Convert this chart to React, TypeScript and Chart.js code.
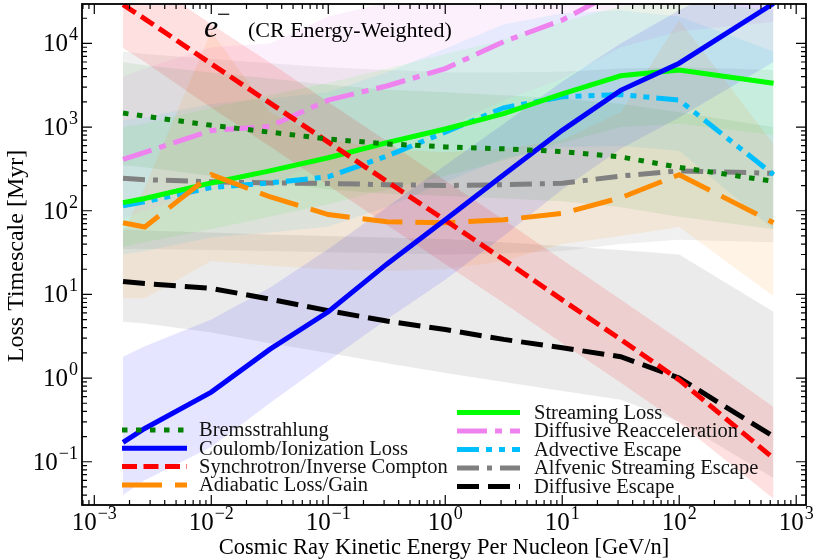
import { useEffect, useRef } from "react";
import { Chart, registerables } from "chart.js";

Chart.register(...registerables);

// kinetic energy per nucleon [GeV/n]
const energy = [0.00176, 0.0027, 0.01, 0.0316, 0.1, 0.316, 1, 3.16, 10, 31.6, 100, 640];

// loss timescales [Myr] (median) and the shaded range around each
const brems = [1470, 1350, 1050, 870, 720, 630, 580, 550, 510, 440, 330, 225];
const bremsLo = [350, 330, 260, 220, 180, 160, 150, 140, 130, 110, 85, 60];
const bremsHi = [6000, 5500, 4500, 3800, 3200, 2800, 2600, 2400, 2200, 1900, 1500, 1000];

const coulomb = [0.17, 0.25, 0.68, 2.2, 6.2, 23, 78, 270, 915, 2750, 5800, 30000];
const coulombLo = [0.04, 0.06, 0.15, 0.5, 1.6, 5, 15, 50, 180, 550, 1300, 6000];
const coulombHi = [1.8, 2.4, 5, 12, 35, 110, 350, 1100, 3500, 10000, 25000, 90000];

const synch = [29000, 19700, 5700, 1950, 660, 225, 77, 26, 8.6, 2.9, 0.95, 0.11];
const synchLo = [8800, 6000, 1700, 590, 200, 68, 23, 7.9, 2.6, 0.88, 0.29, 0.036];
const synchHi = [87000, 59000, 17000, 5900, 2000, 680, 230, 78, 26, 8.7, 2.9, 0.45];

const adiab = [72, 64, 270, 147, 90, 74, 72, 78, 93, 143, 270, 72];
const adiabLo = [9, 9, 25, 22, 20, 19, 20, 25, 40, 50, 64, 9.5];
const adiabHi = [55, 190, 14000, 1500, 700, 550, 500, 550, 700, 1500, 19000, 630];

const stream = [125, 140, 215, 300, 430, 650, 950, 1450, 2500, 4100, 4800, 3350];
const streamLo = [37, 42, 60, 85, 120, 180, 260, 400, 650, 1000, 1100, 800];
const streamHi = [1000, 1100, 1700, 2400, 3400, 5000, 7500, 11000, 18000, 28000, 33000, 25000];

const reacc = [410, 500, 910, 1020, 2100, 3100, 5000, 10500, 19000, 45000, 70000, 90000];
const reaccLo = [80, 100, 180, 200, 420, 620, 1000, 2100, 3800, 9000, 14000, 18000];
const reaccHi = [4000, 5000, 9000, 10000, 21000, 31000, 50000, 100000, 190000, 450000, 700000, 900000];

const advect = [115, 128, 190, 215, 255, 450, 870, 1700, 2300, 2450, 2100, 270];
const advectLo = [30, 33, 48, 55, 65, 110, 220, 420, 580, 600, 520, 60];
const advectHi = [1200, 1300, 1900, 2200, 2600, 4500, 8700, 17000, 23000, 25000, 21000, 8000];

const alfven = [245, 235, 222, 215, 212, 205, 200, 205, 213, 260, 300, 280];
const alfvenLo = [35, 35, 34, 33, 32, 31, 30, 31, 33, 40, 45, 42];
const alfvenHi = [8000, 7500, 6500, 5800, 5200, 4800, 4500, 4500, 4600, 5000, 5200, 4800];

const diffEsc = [14.3, 13.5, 11.8, 8.8, 6.4, 4.8, 3.8, 2.9, 2.3, 1.8, 1.0, 0.2];
const diffEscLo = [4.7, 4.5, 3.5, 2.6, 2.0, 1.5, 1.15, 0.9, 0.7, 0.55, 0.3, 0.064];
const diffEscHi = [60, 58, 55, 52, 50, 48, 46, 42, 38, 34, 30, 6.2];

const xDecades = [-3, -2, -1, 0, 1, 2, 3];
const yDecades = [-1, 0, 1, 2, 3, 4];

type Series = {
  label: string;
  data: number[];
  lo: number[];
  hi: number[];
  color: string;
  band: string;
  dash: number[];
};

const leftCol: Series[] = [
  { label: "Bremsstrahlung", data: brems, lo: bremsLo, hi: bremsHi, color: "#008000", band: "rgba(0,128,0,0.08)", dash: [5.5, 8.5] },
  { label: "Coulomb/Ionization Loss", data: coulomb, lo: coulombLo, hi: coulombHi, color: "#0000ff", band: "rgba(0,0,255,0.1)", dash: [] },
  { label: "Synchrotron/Inverse Compton", data: synch, lo: synchLo, hi: synchHi, color: "#ff0000", band: "rgba(255,0,0,0.12)", dash: [15, 6.5] },
  { label: "Adiabatic Loss/Gain", data: adiab, lo: adiabLo, hi: adiabHi, color: "#ff8c00", band: "rgba(255,140,0,0.1)", dash: [40, 13] },
];

const rightCol: Series[] = [
  { label: "Streaming Loss", data: stream, lo: streamLo, hi: streamHi, color: "#00ff00", band: "rgba(0,255,0,0.08)", dash: [] },
  { label: "Diffusive Reacceleration", data: reacc, lo: reaccLo, hi: reaccHi, color: "#ee82ee", band: "rgba(238,130,238,0.12)", dash: [30, 8, 7, 8] },
  { label: "Advective Escape", data: advect, lo: advectLo, hi: advectHi, color: "#00bfff", band: "rgba(0,191,255,0.1)", dash: [22, 7, 6, 7, 6, 7] },
  { label: "Alfvenic Streaming Escape", data: alfven, lo: alfvenLo, hi: alfvenHi, color: "#808080", band: "rgba(128,128,128,0.12)", dash: [22, 8, 5, 8] },
  { label: "Diffusive Escape", data: diffEsc, lo: diffEscLo, hi: diffEscHi, color: "#000000", band: "rgba(0,0,0,0.08)", dash: [22, 9] },
];

const allSeries = [...leftCol, ...rightCol];
const SERIF = "'Liberation Serif', 'DejaVu Serif', serif";

const pts = (arr: number[]) => energy.map((e, i) => ({ x: e, y: arr[i] }));

// "10" with a raised exponent; align is where the whole label sits relative to x
function drawPow(ctx: CanvasRenderingContext2D, exp: number, x: number, y: number, align: "center" | "right") {
  const e = exp < 0 ? "\u2212" + Math.abs(exp) : String(exp);
  ctx.font = `25px ${SERIF}`;
  const wb = ctx.measureText("10").width;
  ctx.font = `18px ${SERIF}`;
  const we = ctx.measureText(e).width;
  const total = wb + 1 + we;
  const x0 = align === "center" ? x - total / 2 : x - total;
  ctx.textAlign = "left";
  ctx.textBaseline = "alphabetic";
  ctx.font = `25px ${SERIF}`;
  ctx.fillText("10", x0, y);
  ctx.font = `18px ${SERIF}`;
  ctx.fillText(e, x0 + wb + 1, y - 11);
}

const decor = {
  id: "decor",
  afterDraw(chart: Chart) {
    const { ctx, chartArea } = chart;
    const { left, right, top, bottom } = chartArea;
    const xs = chart.scales.x;
    const ys = chart.scales.y;
    ctx.save();
    ctx.fillStyle = "#000";
    ctx.strokeStyle = "#000";

    // frame
    ctx.lineWidth = 1.8;
    ctx.strokeRect(left, top, right - left, bottom - top);

    // inward ticks on all four sides
    ctx.lineWidth = 1.2;
    ctx.beginPath();
    for (let d = -4; d <= 4; d++) {
      for (let m = 1; m < 10; m++) {
        const v = m * Math.pow(10, d);
        const len = m === 1 ? 10 : 5;
        if (v > xs.min && v < xs.max) {
          const px = xs.getPixelForValue(v);
          ctx.moveTo(px, bottom);
          ctx.lineTo(px, bottom - len);
          ctx.moveTo(px, top);
          ctx.lineTo(px, top + len);
        }
        if (v > ys.min && v < ys.max) {
          const py = ys.getPixelForValue(v);
          ctx.moveTo(left, py);
          ctx.lineTo(left + len, py);
          ctx.moveTo(right, py);
          ctx.lineTo(right - len, py);
        }
      }
    }
    ctx.stroke();

    // tick labels
    xDecades.forEach((d) => drawPow(ctx, d, xs.getPixelForValue(Math.pow(10, d)), 530, "center"));
    yDecades.forEach((d) => drawPow(ctx, d, left - 4, ys.getPixelForValue(Math.pow(10, d)) + 8, "right"));

    // axis titles
    ctx.font = `22.5px ${SERIF}`;
    ctx.textAlign = "center";
    ctx.textBaseline = "alphabetic";
    ctx.fillText("Cosmic Ray Kinetic Energy Per Nucleon [GeV/n]", (left + right) / 2, 554);
    ctx.save();
    ctx.translate(23, 256);
    ctx.rotate(-Math.PI / 2);
    ctx.font = `24px ${SERIF}`;
    ctx.fillText("Loss Timescale [Myr]", 0, 0);
    ctx.restore();

    // title inside the axes
    ctx.textAlign = "left";
    ctx.font = `italic 32px ${SERIF}`;
    ctx.fillText("e", 204, 37);
    ctx.font = `24px ${SERIF}`;
    ctx.fillText("\u2212", 217, 22);
    ctx.font = `22px ${SERIF}`;
    ctx.fillText("(CR Energy-Weighted)", 248, 37);

    // legend, two columns
    const drawCol = (list: Series[], x0: number, x1: number, tx: number, y0: number, dy: number) => {
      list.forEach((s, i) => {
        const y = y0 + i * dy;
        ctx.strokeStyle = s.color;
        ctx.lineWidth = 5;
        ctx.setLineDash(s.dash);
        ctx.beginPath();
        ctx.moveTo(x0, y);
        ctx.lineTo(x1, y);
        ctx.stroke();
        ctx.setLineDash([]);
        ctx.fillStyle = "#111";
        ctx.font = `20.5px ${SERIF}`;
        ctx.textBaseline = "middle";
        ctx.fillText(s.label, tx, y + 1);
      });
    };
    drawCol(leftCol, 122, 187, 199, 430, 18.3);
    drawCol(rightCol, 457, 520, 534, 412.5, 18.5);

    ctx.restore();
  },
};

export default function App() {
  const canvasRef = useRef<HTMLCanvasElement | null>(null);

  useEffect(() => {
    const el = canvasRef.current;
    if (!el) return;

    const bands: any[] = [];
    allSeries.forEach((s, i) => {
      bands.push({
        data: pts(s.lo),
        borderWidth: 0,
        pointRadius: 0,
        fill: false,
        order: 1,
      });
      bands.push({
        data: pts(s.hi),
        borderWidth: 0,
        pointRadius: 0,
        backgroundColor: s.band,
        fill: 2 * i,
        order: 1,
      });
    });

    const lines = allSeries.map((s) => ({
      label: s.label,
      data: pts(s.data),
      borderColor: s.color,
      borderWidth: 5,
      borderDash: s.dash,
      pointRadius: 0,
      tension: 0,
      fill: false,
      order: 0,
    }));

    const chart = new Chart(el, {
      type: "line",
      data: { datasets: [...bands, ...lines] },
      options: {
        animation: false,
        responsive: false,
        layout: { padding: { left: 82, right: 8, top: 4, bottom: 55 } },
        scales: {
          x: { type: "logarithmic", min: 7.85e-4, max: 1213, display: false },
          y: { type: "logarithmic", min: 0.0304, max: 29600, display: false },
        },
        plugins: {
          legend: { display: false },
          tooltip: { enabled: false },
        },
      },
      plugins: [decor],
    });

    return () => chart.destroy();
  }, []);

  return (
    <div style={{ position: "absolute", left: 0, top: 0, width: 814, height: 560, background: "#fff" }}>
      <canvas ref={canvasRef} width={814} height={560} style={{ width: 814, height: 560 }} />
    </div>
  );
}
